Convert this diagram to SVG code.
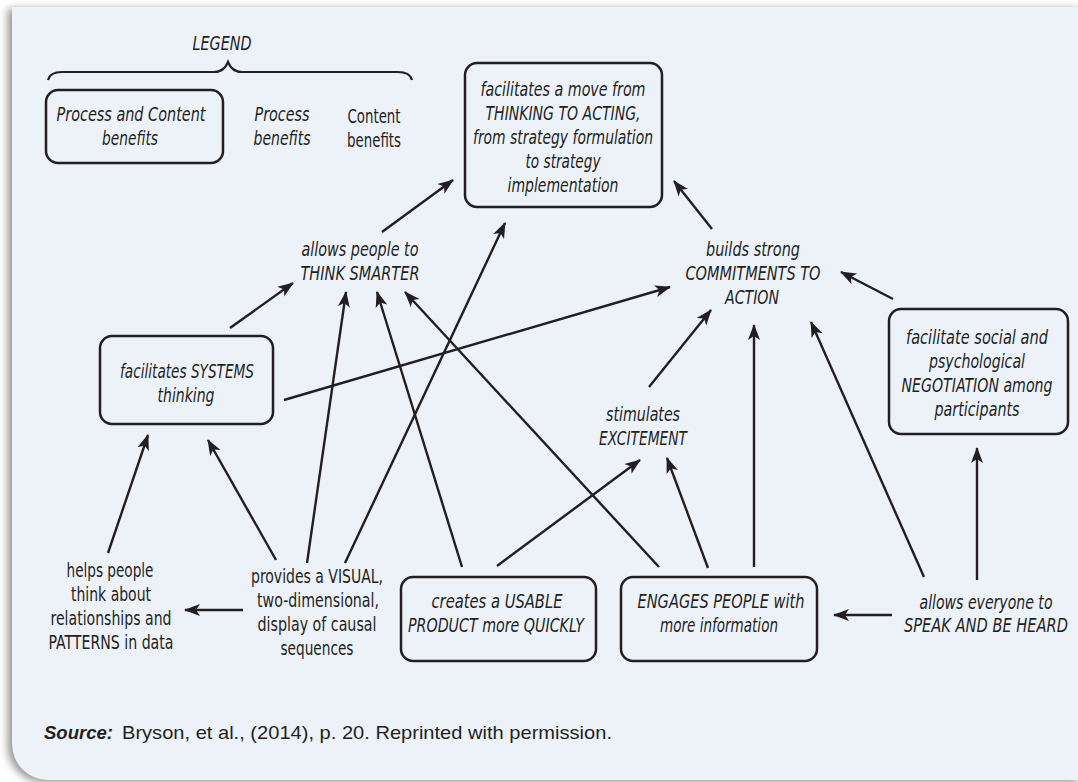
<svg xmlns="http://www.w3.org/2000/svg" width="1078" height="782" viewBox="0 0 1078 782">
<defs>
<filter id="sh" x="-5%" y="-5%" width="110%" height="110%"><feGaussianBlur stdDeviation="4"/></filter>
<marker id="ah" markerUnits="userSpaceOnUse" markerWidth="17" markerHeight="13" refX="15" refY="6.5" orient="auto"><path d="M0,0.5 L16,6.5 L0,12.5 L4,6.5 Z" fill="#231f20"/></marker>
<style>
.t{font-family:"Liberation Sans Narrow","DejaVu Sans Condensed","Liberation Sans",sans-serif;font-size:19px;fill:#231f20;text-anchor:middle}
.i{font-style:italic}
.box{fill:none;stroke:#231f20;stroke-width:2.5}
.c line,.c path{stroke:#231f20;stroke-width:2.4;fill:none}
.c line{marker-end:url(#ah)}
.s{font-family:"Liberation Sans",Arial,sans-serif;font-size:19px;fill:#231f20}
</style>
</defs>
<rect width="1078" height="782" fill="#ffffff"/>
<path d="M8,9 H1078 V782 H43 A36 36 0 0 1 8,746 Z" fill="#8e8e8e" filter="url(#sh)"/>
<path d="M12,7 H1078 V780 H48 A36 36 0 0 1 12,744 Z" fill="#edf2f9"/>

<g id="legend">
<text class="t i" x="222" y="50" textLength="59" lengthAdjust="spacingAndGlyphs">LEGEND</text>
<path d="M48,80 Q50,72 62,72 H214 Q224,72 228,62 Q232,72 242,72 H398 Q410,72 412,80" fill="none" stroke="#231f20" stroke-width="2.2"/>
<rect class="box" x="46" y="90" width="177" height="73" rx="12"/>
<text class="t i" x="131" y="121" textLength="149" lengthAdjust="spacingAndGlyphs">Process and Content</text>
<text class="t i" x="130" y="145" textLength="56" lengthAdjust="spacingAndGlyphs">benefits</text>
<text class="t i" x="282" y="121" textLength="55" lengthAdjust="spacingAndGlyphs">Process</text>
<text class="t i" x="282" y="145" textLength="57" lengthAdjust="spacingAndGlyphs">benefits</text>
<text class="t" x="374" y="123" textLength="53" lengthAdjust="spacingAndGlyphs">Content</text>
<text class="t" x="374" y="147" textLength="54" lengthAdjust="spacingAndGlyphs">benefits</text>
</g>

<g class="c" id="connectors">
<line x1="382" y1="232" x2="453" y2="180"/>
<line x1="345" y1="563" x2="505" y2="223"/>
<line x1="712" y1="229" x2="674" y2="181"/>
<line x1="230" y1="328" x2="293" y2="283"/>
<line x1="307" y1="563" x2="346" y2="292"/>
<line x1="462" y1="567" x2="377" y2="292"/>
<line x1="659" y1="567" x2="405" y2="292"/>
<line x1="284" y1="400" x2="670" y2="287"/>
<line x1="649" y1="387" x2="711" y2="310"/>
<line x1="754" y1="567" x2="754" y2="325"/>
<line x1="924" y1="577" x2="811" y2="322"/>
<line x1="893" y1="299" x2="841" y2="272"/>
<line x1="977" y1="580" x2="977" y2="448"/>
<line x1="892" y1="615" x2="834" y2="615"/>
<line x1="497" y1="566" x2="640" y2="460"/>
<line x1="708" y1="568" x2="667" y2="458"/>
<line x1="108" y1="553" x2="148" y2="435"/>
<line x1="276" y1="560" x2="208" y2="440"/>
<line x1="243" y1="610" x2="185" y2="610"/>
</g>

<g id="n-thinking-to-acting">
<rect class="box" x="465" y="63" width="197" height="144" rx="12"/>
<text class="t i" x="563" y="96" textLength="165" lengthAdjust="spacingAndGlyphs">facilitates a move from</text>
<text class="t i" x="563" y="120" textLength="155" lengthAdjust="spacingAndGlyphs">THINKING TO ACTING,</text>
<text class="t i" x="563" y="144" textLength="180" lengthAdjust="spacingAndGlyphs">from strategy formulation</text>
<text class="t i" x="563" y="168" textLength="75" lengthAdjust="spacingAndGlyphs">to strategy</text>
<text class="t i" x="563" y="192" textLength="111" lengthAdjust="spacingAndGlyphs">implementation</text>
</g>

<g id="n-think-smarter">
<text class="t i" x="360" y="256" textLength="117" lengthAdjust="spacingAndGlyphs">allows people to</text>
<text class="t i" x="360" y="280" textLength="119" lengthAdjust="spacingAndGlyphs">THINK SMARTER</text>
</g>

<g id="n-commitments">
<text class="t i" x="753" y="256" textLength="94" lengthAdjust="spacingAndGlyphs">builds strong</text>
<text class="t i" x="753" y="280" textLength="135" lengthAdjust="spacingAndGlyphs">COMMITMENTS TO</text>
<text class="t i" x="752" y="304" textLength="54" lengthAdjust="spacingAndGlyphs">ACTION</text>
</g>

<g id="n-systems">
<rect class="box" x="100" y="336" width="173" height="88" rx="12"/>
<text class="t i" x="187" y="378" textLength="134" lengthAdjust="spacingAndGlyphs">facilitates SYSTEMS</text>
<text class="t i" x="186" y="402" textLength="57" lengthAdjust="spacingAndGlyphs">thinking</text>
</g>

<g id="n-negotiation">
<rect class="box" x="889" y="309" width="179" height="125" rx="12"/>
<text class="t i" x="977" y="344" textLength="142" lengthAdjust="spacingAndGlyphs">facilitate social and</text>
<text class="t i" x="977" y="368" textLength="96" lengthAdjust="spacingAndGlyphs">psychological</text>
<text class="t i" x="977" y="392" textLength="151" lengthAdjust="spacingAndGlyphs">NEGOTIATION among</text>
<text class="t i" x="977" y="416" textLength="85" lengthAdjust="spacingAndGlyphs">participants</text>
</g>

<g id="n-excitement">
<text class="t i" x="643" y="421" textLength="74" lengthAdjust="spacingAndGlyphs">stimulates</text>
<text class="t i" x="643" y="445" textLength="88" lengthAdjust="spacingAndGlyphs">EXCITEMENT</text>
</g>

<g id="n-patterns">
<text class="t" x="110" y="577" textLength="87" lengthAdjust="spacingAndGlyphs">helps people</text>
<text class="t" x="111" y="601" textLength="80" lengthAdjust="spacingAndGlyphs">think about</text>
<text class="t" x="111" y="625" textLength="121" lengthAdjust="spacingAndGlyphs">relationships and</text>
<text class="t" x="111" y="649" textLength="125" lengthAdjust="spacingAndGlyphs">PATTERNS in data</text>
</g>

<g id="n-visual">
<text class="t" x="317" y="583" textLength="132" lengthAdjust="spacingAndGlyphs">provides a VISUAL,</text>
<text class="t" x="318" y="607" textLength="122" lengthAdjust="spacingAndGlyphs">two-dimensional,</text>
<text class="t" x="317" y="631" textLength="119" lengthAdjust="spacingAndGlyphs">display of causal</text>
<text class="t" x="317" y="655" textLength="73" lengthAdjust="spacingAndGlyphs">sequences</text>
</g>

<g id="n-usable">
<rect class="box" x="401" y="577" width="195" height="84" rx="12"/>
<text class="t i" x="497" y="608" textLength="131" lengthAdjust="spacingAndGlyphs">creates a USABLE</text>
<text class="t i" x="496" y="632" textLength="176" lengthAdjust="spacingAndGlyphs">PRODUCT more QUICKLY</text>
</g>

<g id="n-engages">
<rect class="box" x="621" y="577" width="196" height="84" rx="12"/>
<text class="t i" x="721" y="608" textLength="167" lengthAdjust="spacingAndGlyphs">ENGAGES PEOPLE with</text>
<text class="t i" x="719" y="632" textLength="118" lengthAdjust="spacingAndGlyphs">more information</text>
</g>

<g id="n-speak">
<text class="t i" x="986" y="609" textLength="133" lengthAdjust="spacingAndGlyphs">allows everyone to</text>
<text class="t i" x="986" y="632" textLength="164" lengthAdjust="spacingAndGlyphs">SPEAK AND BE HEARD</text>
</g>

<g id="source">
<text class="s" x="44" y="739" font-weight="bold" font-style="italic" textLength="69" lengthAdjust="spacingAndGlyphs">Source:</text>
<text class="s" x="122" y="739" textLength="490" lengthAdjust="spacingAndGlyphs">Bryson, et al., (2014), p. 20. Reprinted with permission.</text>
</g>
</svg>
